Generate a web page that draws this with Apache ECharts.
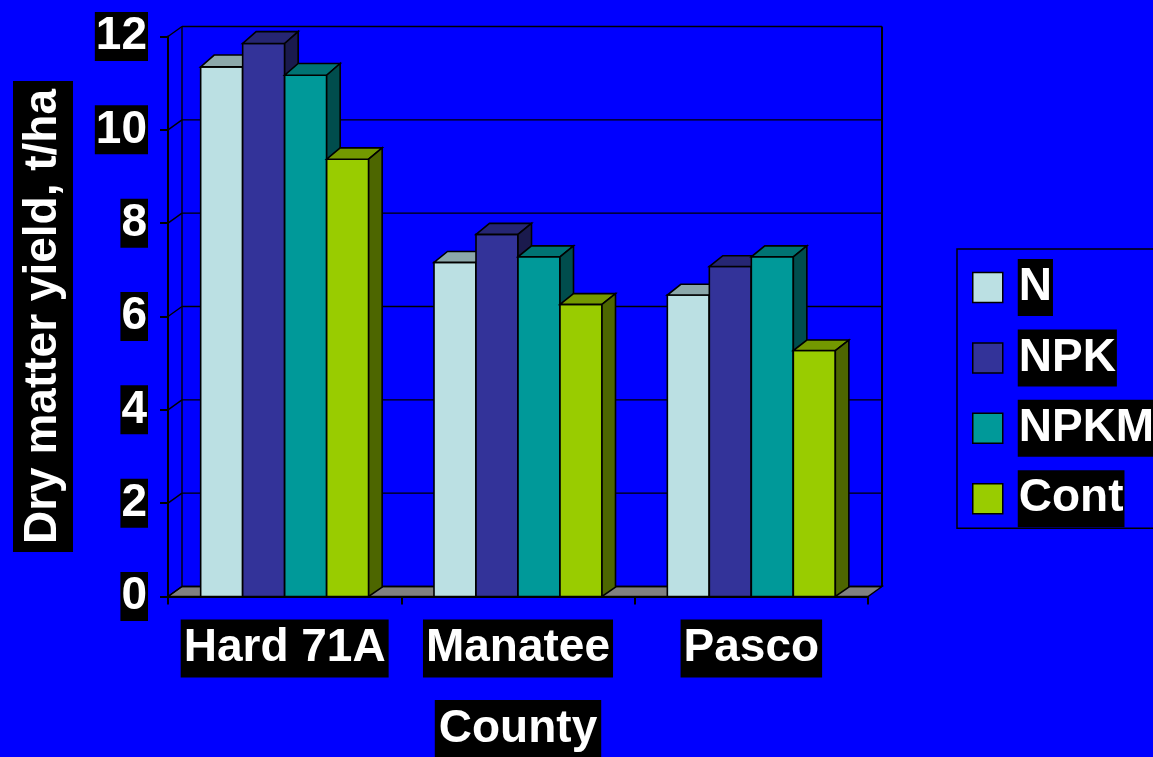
<!DOCTYPE html>
<html>
<head>
<meta charset="utf-8">
<script src="https://cdn.jsdelivr.net/npm/echarts@6/dist/echarts.min.js"></script>
<style>
  html, body { margin: 0; padding: 0; background: #0000ff; }
  #chart { width: 1153px; height: 757px; }
</style>
</head>
<body>
<div id="chart"></div>
<script>
// Dry matter yield (t/ha) by county and fertiliser treatment
const counties   = ['Hard 71A', 'Manatee', 'Pasco'];
const treatments = ['N', 'NPK', 'NPKM', 'Cont'];
const yieldN     = [11.35, 7.16, 6.46];
const yieldNPK   = [11.85, 7.76, 7.07];
const yieldNPKM  = [11.17, 7.28, 7.28];
const yieldCont  = [9.37, 6.26, 5.27];
const yTicks     = [0, 2, 4, 6, 8, 10, 12];

const seriesValues = [yieldN, yieldNPK, yieldNPKM, yieldCont];

const FONT = "'Liberation Sans', Arial, Helvetica, sans-serif";
const faceColors = ['#BBE0E3', '#333399', '#009999', '#99CC00'];

// oblique depth of the walls and of the columns, in pixels
const WALL_DX = 14, WALL_DY = -10;
const BAR_DX = 13.5;
const BAR_FRACTION = 0.18;

function shade(hex, f) {
  const n = parseInt(hex.slice(1), 16);
  const r = Math.round(((n >> 16) & 255) * f);
  const g = Math.round(((n >> 8) & 255) * f);
  const b = Math.round((n & 255) * f);
  return 'rgb(' + r + ',' + g + ',' + b + ')';
}

// back wall, left wall, floor and their gridlines
function renderWalls(params, api) {
  const v = api.value(1);
  const band = api.size([1, 0])[0];
  const p = api.coord([0, v]);
  const xL = p[0] - band / 2;
  const xR = api.coord([counties.length - 1, v])[0] + band / 2;
  const y = p[1];
  const line = { stroke: '#000', lineWidth: 1.4 };
  const children = [];
  if (params.dataIndex === 0) {
    const topY = api.coord([0, yTicks[yTicks.length - 1]])[1];
    children.push({
      type: 'polygon',
      shape: { points: [[xL, y], [xR, y], [xR + WALL_DX, y + WALL_DY], [xL + WALL_DX, y + WALL_DY]] },
      style: { fill: '#808080', stroke: '#000', lineWidth: 1.4 }
    });
    children.push({
      type: 'line',
      shape: { x1: xL + WALL_DX, y1: topY + WALL_DY, x2: xL + WALL_DX, y2: y + WALL_DY },
      style: line
    });
    children.push({
      type: 'line',
      shape: { x1: xR + WALL_DX, y1: topY + WALL_DY, x2: xR + WALL_DX, y2: y + WALL_DY },
      style: { stroke: '#000', lineWidth: 2 }
    });
  }
  children.push({
    type: 'line',
    shape: { x1: xL + WALL_DX, y1: y + WALL_DY, x2: xR + WALL_DX, y2: y + WALL_DY },
    style: line
  });
  children.push({
    type: 'line',
    shape: { x1: xL, y1: y, x2: xL + WALL_DX, y2: y + WALL_DY },
    style: line
  });
  return { type: 'group', children: children };
}

// one 3D column: front face, top face and right side
function makeBarRenderer(idx) {
  return function (params, api) {
    const c = api.value(0), v = api.value(1);
    const band = api.size([1, 0])[0];
    const w = band * BAR_FRACTION;
    const top = api.coord([c, v]);
    const base = api.coord([c, 0]);
    const x0 = top[0] + (idx - (treatments.length - 1) / 2) * w - w / 2;
    const x1 = x0 + w;
    const yT = top[1], yB = base[1];
    const dyB = -9.4;
    const dyT = dyB - 0.0045 * (yB - yT);
    const col = faceColors[idx];
    const edge = { stroke: '#000', lineWidth: 1.6, lineJoin: 'miter' };
    return {
      type: 'group',
      children: [
        {
          type: 'rect',
          shape: { x: x0, y: yT, width: w, height: yB - yT },
          style: Object.assign({ fill: col }, edge)
        },
        {
          type: 'polygon',
          shape: { points: [[x0, yT], [x1, yT], [x1 + BAR_DX, yT + dyT], [x0 + BAR_DX, yT + dyT]] },
          style: Object.assign({ fill: shade(col, 0.75) }, edge)
        },
        {
          type: 'polygon',
          shape: { points: [[x1, yT], [x1 + BAR_DX, yT + dyT], [x1 + BAR_DX, yB + dyB], [x1, yB]] },
          style: Object.assign({ fill: shade(col, 0.5) }, edge)
        }
      ]
    };
  };
}

const labelBox = {
  color: '#fff',
  fontSize: 46,
  fontWeight: 'bold',
  fontFamily: FONT,
  backgroundColor: '#000'
};

const series = [{
  name: 'walls',
  type: 'custom',
  silent: true,
  clip: false,
  z: 1,
  encode: { x: 0, y: 1 },
  data: yTicks.map(function (t) { return [0, t]; }),
  renderItem: renderWalls
}];

treatments.forEach(function (name, i) {
  series.push({
    name: name,
    type: 'custom',
    clip: false,
    z: 2,
    encode: { x: 0, y: 1 },
    itemStyle: { color: faceColors[i] },
    data: seriesValues[i].map(function (v, c) { return [c, v]; }),
    renderItem: makeBarRenderer(i)
  });
});

const chart = echarts.init(document.getElementById('chart'), null, { renderer: 'canvas' });
chart.setOption({
  backgroundColor: '#0000ff',
  animation: false,
  grid: { left: 168, top: 36.5, width: 700, height: 560, containLabel: false, outerBoundsMode: 'none' },
  xAxis: {
    type: 'category',
    data: counties,
    boundaryGap: true,
    name: 'County',
    nameLocation: 'middle',
    nameGap: 103.5,
    nameTextStyle: Object.assign({}, labelBox, { padding: [0, 4], lineHeight: 58 }),
    axisLine: { show: true, lineStyle: { color: '#000', width: 2 } },
    axisTick: { show: true, length: 8, lineStyle: { color: '#000', width: 2 } },
    axisLabel: Object.assign({}, labelBox, { padding: [0, 3], lineHeight: 58, margin: 23, interval: 0, hideOverlap: false }),
    splitLine: { show: false }
  },
  yAxis: {
    type: 'value',
    min: 0,
    max: 12,
    interval: 2,
    name: 'Dry matter yield, t/ha',
    nameLocation: 'middle',
    nameRotate: 90,
    nameGap: 95,
    nameTextStyle: Object.assign({}, labelBox, { padding: [0, 8], lineHeight: 60 }),
    axisLine: { show: true, lineStyle: { color: '#000', width: 2 } },
    axisTick: { show: true, length: 8, lineStyle: { color: '#000', width: 2 } },
    axisLabel: Object.assign({}, labelBox, { padding: [2, 1, 2, 1], lineHeight: 45, margin: 20, hideOverlap: false }),
    splitLine: { show: false }
  },
  legend: {
    orient: 'vertical',
    left: 957,
    top: 249,
    padding: [10, 12, 1, 15],
    itemGap: 13.4,
    itemWidth: 30,
    itemHeight: 30,
    icon: 'rect',
    borderColor: '#000',
    borderWidth: 1.5,
    itemStyle: { borderColor: '#000', borderWidth: 1.5 },
    formatter: function (name) { return '{g|}{t|' + name + '}'; },
    textStyle: {
      rich: {
        g: { width: 10 },
        t: Object.assign({}, labelBox, { padding: [0, 1], height: 57, lineHeight: 57 })
      }
    },
    data: treatments
  },
  series: series
});
</script>
</body>
</html>
